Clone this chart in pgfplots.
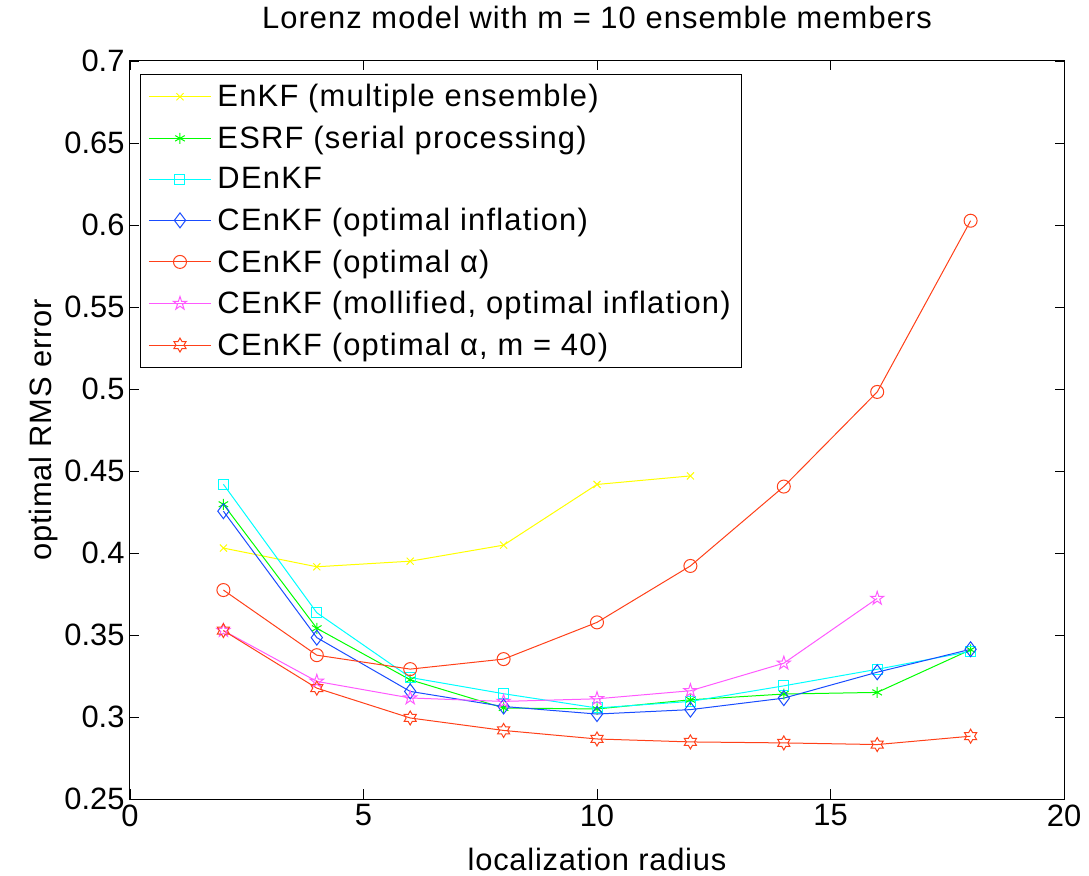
\documentclass[border=0pt]{standalone}
\usepackage{fontspec}
\setmainfont{Liberation Sans}
\newfontfamily\titf[LetterSpace=3.5]{Liberation Sans}
\newfontfamily\labf[LetterSpace=2.5]{Liberation Sans}
\newfontfamily\legf[LetterSpace=4]{Liberation Sans}
\usepackage{pgfplots}
\pgfplotsset{compat=1.18}
\usetikzlibrary{plotmarks}
\definecolor{colY}{rgb}{1,1,0}
\definecolor{colG}{rgb}{0,1,0}
\definecolor{colC}{rgb}{0,1,1}
\definecolor{colB}{rgb}{0.1,0.3,1}
\definecolor{colR}{rgb}{1,0.25,0.1}
\definecolor{colM}{rgb}{1,0.35,1}
\pgfdeclareplotmark{pentao}{%
  \pgfpathmoveto{\pgfpointpolar{90}{\pgfplotmarksize}}%
  \pgfpathlineto{\pgfpointpolar{126}{0.382\pgfplotmarksize}}%
  \pgfpathlineto{\pgfpointpolar{162}{\pgfplotmarksize}}%
  \pgfpathlineto{\pgfpointpolar{198}{0.382\pgfplotmarksize}}%
  \pgfpathlineto{\pgfpointpolar{234}{\pgfplotmarksize}}%
  \pgfpathlineto{\pgfpointpolar{270}{0.382\pgfplotmarksize}}%
  \pgfpathlineto{\pgfpointpolar{306}{\pgfplotmarksize}}%
  \pgfpathlineto{\pgfpointpolar{342}{0.382\pgfplotmarksize}}%
  \pgfpathlineto{\pgfpointpolar{18}{\pgfplotmarksize}}%
  \pgfpathlineto{\pgfpointpolar{54}{0.382\pgfplotmarksize}}%
  \pgfpathclose\pgfusepathqstroke}
\pgfdeclareplotmark{hexao}{%
  \pgfpathmoveto{\pgfpointpolar{90}{\pgfplotmarksize}}%
  \pgfpathlineto{\pgfpointpolar{120}{0.577\pgfplotmarksize}}%
  \pgfpathlineto{\pgfpointpolar{150}{\pgfplotmarksize}}%
  \pgfpathlineto{\pgfpointpolar{180}{0.577\pgfplotmarksize}}%
  \pgfpathlineto{\pgfpointpolar{210}{\pgfplotmarksize}}%
  \pgfpathlineto{\pgfpointpolar{240}{0.577\pgfplotmarksize}}%
  \pgfpathlineto{\pgfpointpolar{270}{\pgfplotmarksize}}%
  \pgfpathlineto{\pgfpointpolar{300}{0.577\pgfplotmarksize}}%
  \pgfpathlineto{\pgfpointpolar{330}{\pgfplotmarksize}}%
  \pgfpathlineto{\pgfpointpolar{0}{0.577\pgfplotmarksize}}%
  \pgfpathlineto{\pgfpointpolar{30}{\pgfplotmarksize}}%
  \pgfpathlineto{\pgfpointpolar{60}{0.577\pgfplotmarksize}}%
  \pgfpathclose\pgfusepathqstroke}
\newcommand{\bigf}{\fontsize{31}{36}\selectfont}
\begin{document}
\begin{tikzpicture}
\begin{axis}[
  scale only axis, width=934bp, height=738bp,
  xmin=0, xmax=20, ymin=0.25, ymax=0.7,
  xtick={0,5,10,15,20},
  ytick={0.25,0.3,0.35,0.4,0.45,0.5,0.55,0.6,0.65,0.7},
  yticklabels={0.25,0.3,0.35,0.4,0.45,0.5,0.55,0.6,0.65,0.7},
  /pgf/number format/assume math mode=true,
  tick align=inside, major tick length=9.5bp,
  xtick pos=both, ytick pos=both,
  tick style={black, line width=0.8bp},
  axis line style={line width=1bp},
  ticklabel style={font=\bigf},
  xticklabel style={yshift=-2bp},
  yticklabel style={xshift=-2bp},
  title={Lorenz model with m = 10 ensemble members},
  title style={font=\titf\bigf, at={(0.5,1)}, anchor=base, yshift=27bp},
  xlabel={localization radius},
  ylabel={optimal RMS error},
  label style={font=\labf\bigf},
  xlabel style={at={(0.5,0)}, anchor=base, yshift=-71bp},
  every axis plot/.append style={line width=1bp},
  legend cell align=left,
  legend style={at={(0.0107,0.9824)}, anchor=north west, font=\legf\bigf,
    draw=black, line width=1bp, inner xsep=8bp, inner ysep=7bp, row sep=11bp, column sep=3bp,
    nodes={inner sep=3bp, text depth=0.22em}},
  legend image code/.code={\draw[line width=1bp, mark repeat=2, mark phase=2] plot coordinates {(0bp,0bp) (31bp,0bp) (62bp,0bp)};},
]
\coordinate (bl) at (rel axis cs:0,0);
\coordinate (tr) at (rel axis cs:1,1);
\addplot[colY, mark=x, mark size=5bp] coordinates {(2,0.403) (4,0.3916) (6,0.395) (8,0.4048) (10,0.4418) (12,0.447)};
\addlegendentry{EnKF (multiple ensemble)}
\addplot[colG, mark=asterisk, mark size=5.5bp] coordinates {(2,0.4297) (4,0.3541) (6,0.3227) (8,0.3055) (10,0.3049) (12,0.3105) (14,0.314) (16,0.315) (18,0.341)};
\addlegendentry{ESRF (serial processing)}
\addplot[colC, mark=square, mark size=5bp] coordinates {(2,0.4419) (4,0.3636) (6,0.3241) (8,0.3142) (10,0.3055) (12,0.3095) (14,0.319) (16,0.3291) (18,0.340)};
\addlegendentry{DEnKF}
\addplot[colB, mark=diamond, mark size=7.5bp] coordinates {(2,0.4255) (4,0.3484) (6,0.3156) (8,0.3064) (10,0.3018) (12,0.3045) (14,0.3115) (16,0.3273) (18,0.3413)};
\addlegendentry{CEnKF (optimal inflation)}
\addplot[colR, mark=o, mark size=6.5bp] coordinates {(2,0.3774) (4,0.3377) (6,0.3292) (8,0.3353) (10,0.3577) (12,0.3921) (14,0.4405) (16,0.4982) (18,0.6026)};
\addlegendentry{CEnKF (optimal α)}
\addplot[colM, mark=pentao, mark size=7bp] coordinates {(2,0.3527) (4,0.3217) (6,0.3116) (8,0.3095) (10,0.3111) (12,0.316) (14,0.3328) (16,0.3723)};
\addlegendentry{CEnKF (mollified, optimal inflation)}
\addplot[colR, mark=hexao, mark size=7bp] coordinates {(2,0.3527) (4,0.3176) (6,0.2994) (8,0.2918) (10,0.2866) (12,0.2848) (14,0.2842) (16,0.2832) (18,0.2883)};
\addlegendentry{CEnKF (optimal α, m = 40)}
\end{axis}
\pgfresetboundingbox
\path ([xshift=-130bp,yshift=-77bp]bl) rectangle ([xshift=25bp,yshift=61bp]tr);
\end{tikzpicture}
\end{document}
